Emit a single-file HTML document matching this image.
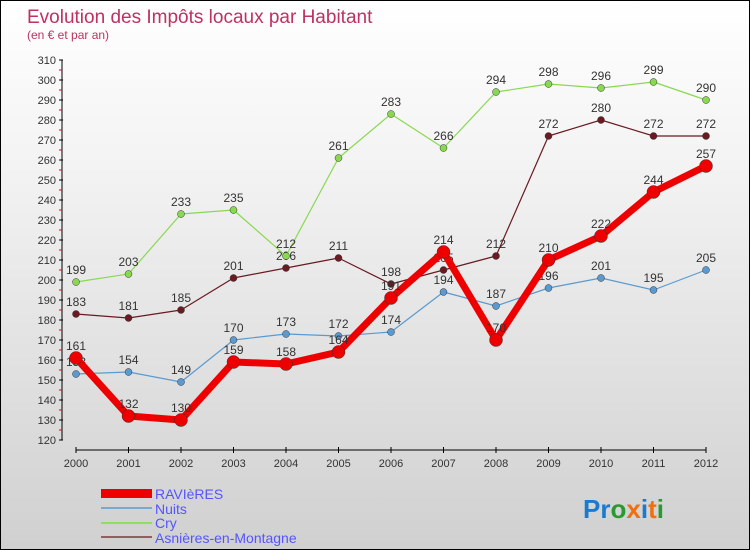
<!DOCTYPE html>
<html><head><meta charset="utf-8"><style>
body{margin:0}
#c{width:748px;height:548px;border:1px solid #000;background:linear-gradient(#fff,#f3f3f3 30%,#d0d0d0);position:relative;font-family:"Liberation Sans",sans-serif;overflow:hidden}
</style></head><body>
<div id="c">
<svg id="s" width="748" height="548" xmlns="http://www.w3.org/2000/svg" style="position:absolute;left:0;top:0">
<text x="26" y="22" font-size="19" fill="#c03060">Evolution des Impôts locaux par Habitant</text>
<text x="26" y="38" font-size="12" fill="#c03060">(en € et par an)</text>
<g id="axes"></g><g id="series"></g>
<g>
<rect x="100" y="488" width="51" height="9" fill="#e00"/>
<text x="154" y="498" font-size="14" fill="#55f">RAVIèRES</text>
<line x1="100" y1="507" x2="151" y2="507" stroke="#7aaad0" stroke-width="2"/>
<text x="154" y="513" font-size="14" fill="#55f">Nuits</text>
<line x1="100" y1="522" x2="151" y2="522" stroke="#90dd60" stroke-width="2"/>
<text x="154" y="527" font-size="14" fill="#55f">Cry</text>
<line x1="100" y1="536" x2="151" y2="536" stroke="#906060" stroke-width="2"/>
<text x="154" y="542" font-size="14" fill="#55f">Asnières-en-Montagne</text>
</g>
<text x="582" y="517" font-size="26" font-weight="bold"><tspan fill="#1a7ad0">Pr</tspan><tspan fill="#2a9a30">o</tspan><tspan fill="#f07010">x</tspan><tspan fill="#1a7ad0">i</tspan><tspan fill="#f07010">t</tspan><tspan fill="#2a9a30">i</tspan></text>
</svg></div>
<script>
const years=[2000,2001,2002,2003,2004,2005,2006,2007,2008,2009,2010,2011,2012];
const ravieres=[161,132,130,159,158,164,191,214,170,210,222,244,257];
const nuits=[153,154,149,170,173,172,174,194,187,196,201,195,205];
const cry=[199,203,233,235,212,261,283,266,294,298,296,299,290];
const asnieres=[183,181,185,201,206,211,198,205,212,272,280,272,272];
const yTicks=[120,130,140,150,160,170,180,190,200,210,220,230,240,250,260,270,280,290,300,310];
const NS="http://www.w3.org/2000/svg";
const X=i=>75+i*52.5, Y=v=>439-(v-120)*2;
function mk(p,t,a){const e=document.createElementNS(NS,t);for(const k in a)e.setAttribute(k,a[k]);p.appendChild(e);return e;}
const ax=document.getElementById('axes');
mk(ax,'line',{x1:61,y1:Y(310),x2:61,y2:Y(120),stroke:'#000'});
mk(ax,'line',{x1:75,y1:449,x2:705,y2:449,stroke:'#000'});
yTicks.forEach(v=>{
 mk(ax,'line',{x1:58,y1:Y(v),x2:62,y2:Y(v),stroke:'#000'});
 if(v<310)mk(ax,'line',{x1:58,y1:Y(v+5),x2:61,y2:Y(v+5),stroke:'#e00'});
 const t=mk(ax,'text',{x:55,y:Y(v)+4,'font-size':11,'text-anchor':'end',fill:'#333'});t.textContent=v;
 
 
});
years.forEach((y,i)=>{
 mk(ax,'line',{x1:X(i),y1:446,x2:X(i),y2:452,stroke:'#000'});
 const t=mk(ax,'text',{x:X(i),y:466,'font-size':11,'text-anchor':'middle',fill:'#333'});t.textContent=y;
 
 
});
const sg=document.getElementById('series');
function series(d,col,w,r,name){
 const g=mk(sg,'g',{});
 
 
 mk(g,'polyline',{points:d.map((v,i)=>X(i)+','+Y(v)).join(' '),fill:'none',stroke:col,'stroke-width':w,'stroke-linejoin':'round'});
 d.forEach((v,i)=>{
  const c=mk(g,'circle',{cx:X(i),cy:Y(v),r:r,fill:col,stroke:'#333','stroke-width':0.5});
  
  
  const t=mk(g,'text',{x:X(i),y:Y(v)-8,'font-size':12,'text-anchor':'middle',fill:'#333'});t.textContent=v;
  
  
 });
}
series(asnieres,'#6a1a20',1.2,3.5,'series-asnieres');
series(cry,'#8ad850',1.2,3.5,'series-cry');
series(nuits,'#5a9ad0',1.2,3.5,'series-nuits');
series(ravieres,'#ee0000',7,6.5,'series-ravieres');
</script>
</body></html>
